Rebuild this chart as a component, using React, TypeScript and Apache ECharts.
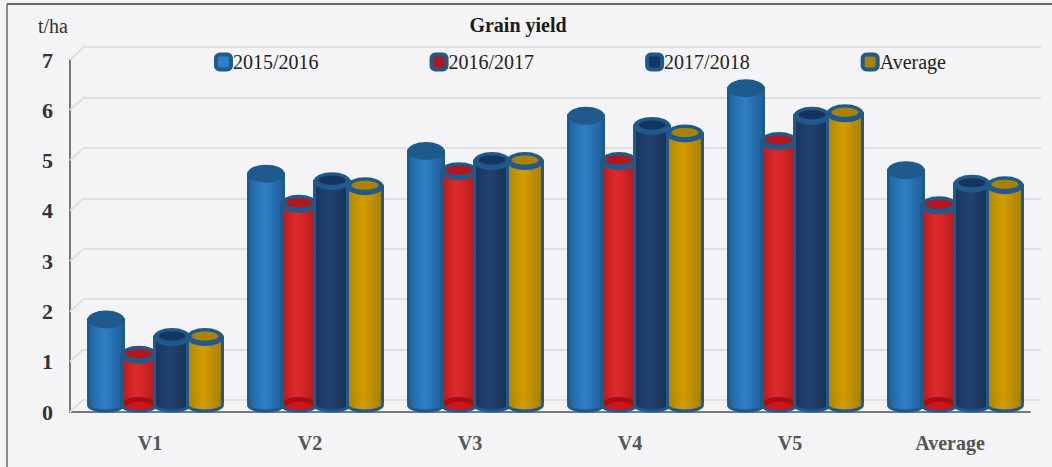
import React, { useEffect, useRef } from "react";
import * as echarts from "echarts";

const categories = ["V1", "V2", "V3", "V4", "V5", "Average"];
const seriesNames = ["2015/2016", "2016/2017", "2017/2018", "Average"];
const y2015 = [1.7, 4.6, 5.05, 5.75, 6.3, 4.67];
const y2016 = [1.0, 4.0, 4.65, 4.85, 5.25, 3.97];
const y2017 = [1.35, 4.45, 4.85, 5.55, 5.75, 4.4];
const yAvg = [1.35, 4.35, 4.85, 5.4, 5.8, 4.37];
const yTicks = [0, 1, 2, 3, 4, 5, 6, 7];

const allValues = [y2015, y2016, y2017, yAvg];
const bodyColors = [
  ["#22649f", "#2f7fc6", "#1f5f99"],
  ["#b81c1e", "#e02a2a", "#b01a1c"],
  ["#1b3560", "#22426f", "#172e55"],
  ["#b08600", "#d09c00", "#a67e00"],
];
const topColors = ["#1f5a8c", "#b3161b", "#17335f", "#a88200"];
const OUTLINE = "#1f5a8c";
const STEP = 33;
const W = 35;
const RY = 8;
const SHIFT = 7;
const XOFF = 5.5;

function gradient(cs: string[]) {
  return new echarts.graphic.LinearGradient(0, 0, 1, 0, [
    { offset: 0, color: cs[0] },
    { offset: 0.45, color: cs[1] },
    { offset: 1, color: cs[2] },
  ]);
}

function cylinder(idx: number) {
  return (params: any, api: any) => {
    const c = api.coord([api.value(0), api.value(1)]);
    const base = api.coord([api.value(0), 0]);
    const cx = c[0] + (idx - 1.5) * STEP + XOFF;
    const topY = c[1] - SHIFT;
    const botY = base[1] - SHIFT;
    const x = cx - W / 2;
    const hollow = idx === 0 ? OUTLINE : topColors[idx];
    const cs = bodyColors[idx];
    return {
      type: "group",
      children: [
        {
          type: "rect",
          shape: { x, y: topY, width: W, height: botY - topY - 3 },
          style: { fill: gradient(cs), stroke: OUTLINE, lineWidth: 3 },
        },
        {
          type: "ellipse",
          shape: { cx, cy: botY, rx: W / 2, ry: 6 },
          style: { fill: gradient(cs), stroke: OUTLINE, lineWidth: 3 },
        },
        {
          type: "rect",
          shape: { x: x + 1.5, y: botY - 12, width: W - 3, height: 12 },
          style: { fill: gradient(cs) },
        },
        ...(idx === 1
          ? [
              {
                type: "ellipse",
                shape: { cx, cy: botY - 2, rx: W / 2 - 2, ry: 6 },
                style: { fill: "#a80c14" },
              },
              {
                type: "ellipse",
                shape: { cx, cy: botY + 1, rx: W / 2 - 5, ry: 4 },
                style: { fill: "#d0141c" },
              },
            ]
          : []),
        {
          type: "ellipse",
          shape: { cx, cy: topY, rx: W / 2, ry: RY },
          style: { fill: OUTLINE, stroke: OUTLINE, lineWidth: 2 },
        },
        {
          type: "ellipse",
          shape: { cx, cy: topY - 1, rx: W / 2 - 4, ry: RY - 3.5 },
          style: { fill: hollow },
        },
      ],
    };
  };
}

const App = () => {
  const ref = useRef<HTMLDivElement>(null);
  useEffect(() => {
    const chart = echarts.init(ref.current!, null, { renderer: "svg" });
    const serif = "'Liberation Serif', 'Times New Roman', serif";
    chart.setOption({
      animation: false,
      backgroundColor: "#f4f3f5",
      title: {
        text: "Grain yield",
        left: 513,
        top: 10,
        textAlign: "center",
        textStyle: { fontFamily: serif, fontSize: 20, fontWeight: "bold", color: "#1a1a1a" },
      },
      legend: {
        left: 209,
        top: 47,
        itemGap: 111,
        itemWidth: 15,
        itemHeight: 15,
        textStyle: { fontFamily: serif, fontSize: 20, color: "#222", padding: [0, 0, 0, -3] },
        data: seriesNames.map((name, i) => ({
          name,
          icon: "roundRect",
          itemStyle: { color: i === 0 ? "#2f7fc6" : topColors[i], borderColor: OUTLINE, borderWidth: 4 },
        })),
      },
      graphic: [
        {
          type: "line",
          silent: true,
          z: 100,
          shape: { x1: 7, y1: 4, x2: 1052, y2: 4 },
          style: { stroke: "#666", lineWidth: 2 },
        },
        {
          type: "line",
          silent: true,
          z: 100,
          shape: { x1: 7, y1: 4, x2: 7, y2: 467 },
          style: { stroke: "#666", lineWidth: 1.5 },
        },
        {
          type: "text",
          x: 38,
          y: 16,
          style: { text: "t/ha", font: `20px ${serif}`, fill: "#333" },
        },
      ],
      grid: [
        { left: 83, right: 11, top: 47, height: 353 },
        { left: 70, right: 22, top: 60, height: 352 },
      ],
      xAxis: [
        { gridIndex: 0, type: "category", data: categories, show: false },
        {
          gridIndex: 1,
          type: "category",
          data: categories,
          axisTick: { show: false },
          axisLine: { lineStyle: { color: "#777", width: 2 } },
          axisLabel: {
            margin: 21,
            fontFamily: serif,
            fontSize: 20,
            fontWeight: "bold",
            color: "#555",
          },
        },
      ],
      yAxis: [
        {
          gridIndex: 0,
          type: "value",
          min: 0,
          max: 7,
          interval: 1,
          axisLabel: { show: false },
          axisLine: { show: false },
          axisTick: { show: false },
          splitLine: { lineStyle: { color: "#e0dfe0", width: 2 } },
        },
        {
          gridIndex: 1,
          type: "value",
          min: 0,
          max: 7,
          interval: 1,
          axisLine: { show: true, lineStyle: { color: "#777", width: 2 } },
          axisTick: { show: false },
          splitLine: { show: false },
          axisLabel: {
            margin: 17,
            fontFamily: serif,
            fontSize: 22,
            fontWeight: "bold",
            color: "#333",
          },
        },
      ],
      series: [
        {
          type: "custom",
          name: "grid-side",
          silent: true,
          xAxisIndex: 1,
          yAxisIndex: 1,
          z: 1,
          data: yTicks.map((t) => [t]),
          renderItem: (params: any, api: any) => {
            const p = api.coord([0, api.value(0)]);
            const left = params.coordSys.x;
            return {
              type: "line",
              shape: { x1: left, y1: p[1], x2: left + 13, y2: p[1] - 12 },
              style: { stroke: "#e0dfe0", lineWidth: 2 },
            };
          },
        },
        ...seriesNames.map((name, i) => ({
          type: "custom",
          name,
          xAxisIndex: 1,
          yAxisIndex: 1,
          z: 3 + i,
          clip: false,
          data: allValues[i].map((v, k) => [k, v]),
          renderItem: cylinder(i),
        })),
      ],
    });
    return () => chart.dispose();
  }, []);
  return <div ref={ref} style={{ width: 1052, height: 467, position: "absolute", left: 0, top: 0 }} />;
};

export default App;
